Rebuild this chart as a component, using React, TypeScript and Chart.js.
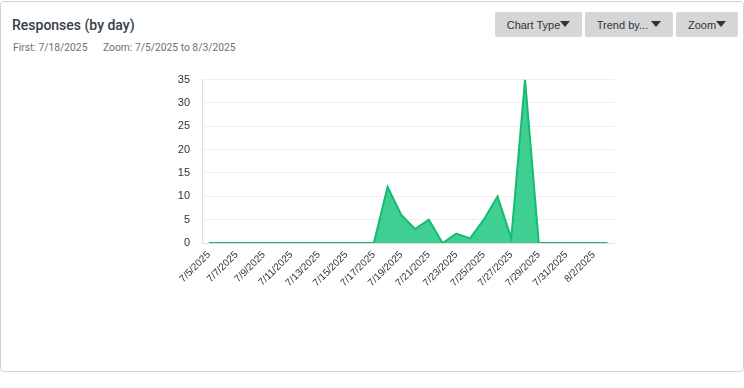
import React, { useEffect, useRef } from "react";
import { Chart, registerables } from "chart.js";

Chart.register(...registerables);

const dates = [
  "7/5/2025", "7/6/2025", "7/7/2025", "7/8/2025", "7/9/2025", "7/10/2025",
  "7/11/2025", "7/12/2025", "7/13/2025", "7/14/2025", "7/15/2025", "7/16/2025",
  "7/17/2025", "7/18/2025", "7/19/2025", "7/20/2025", "7/21/2025", "7/22/2025",
  "7/23/2025", "7/24/2025", "7/25/2025", "7/26/2025", "7/27/2025", "7/28/2025",
  "7/29/2025", "7/30/2025", "7/31/2025", "8/1/2025", "8/2/2025", "8/3/2025",
];

const responses = [
  0, 0, 0, 0, 0, 0,
  0, 0, 0, 0, 0, 0,
  0, 12, 6, 3, 5, 0,
  2, 1, 5, 10, 1, 35,
  0, 0, 0, 0, 0, 0,
];

const yTicks = [0, 5, 10, 15, 20, 25, 30, 35];

const Caret = () => (
  <span
    style={{
      display: "inline-block",
      width: 0,
      height: 0,
      borderLeft: "5px solid transparent",
      borderRight: "5px solid transparent",
      borderTop: "6px solid #333",
      verticalAlign: "middle",
      marginTop: -2,
    }}
  />
);

const btnStyle: React.CSSProperties = {
  position: "absolute",
  top: 12,
  height: 25,
  background: "#d5d6d7",
  borderRadius: 2,
  color: "#333",
  font: "11px 'Liberation Sans', Arial, sans-serif",
  display: "flex",
  alignItems: "center",
  justifyContent: "center",
  boxSizing: "border-box",
};

const subStyle: React.CSSProperties = {
  position: "absolute",
  top: 41,
  font: "10.3px Roboto, 'Noto Sans', sans-serif",
  color: "#6b7178",
  whiteSpace: "nowrap",
};

export default function App() {
  const ref = useRef<HTMLCanvasElement>(null);

  useEffect(() => {
    document.body.style.margin = "0";
    const ctx = ref.current!;
    const chart = new Chart(ctx, {
      type: "line",
      data: {
        labels: dates,
        datasets: [
          {
            label: "Responses",
            data: responses,
            borderColor: "#12bd70",
            backgroundColor: "rgba(0,191,111,0.75)",
            borderWidth: 2,
            fill: "origin",
            tension: 0,
            pointRadius: 0,
            pointHoverRadius: 0,
          },
        ],
      },
      options: {
        animation: false,
        responsive: false,
        maintainAspectRatio: false,
        layout: { padding: { top: 9, right: 0, bottom: 0, left: 0 } },
        plugins: { legend: { display: false }, tooltip: { enabled: false } },
        scales: {
          x: {
            offset: true,
            grid: { display: false, drawTicks: false },
            border: { display: true, color: "#dddddd", width: 1 },
            ticks: {
              autoSkip: false,
              minRotation: 45,
              maxRotation: 45,
              padding: 6,
              color: "#333",
              font: { family: "'Liberation Sans', Arial, sans-serif", size: 10 },
              callback: (_v: any, i: number) => (i % 2 === 0 ? dates[i] : ""),
            },
            afterFit: (s: any) => {
              s.height = 60;
            },
          },
          y: {
            min: 0,
            max: 35,
            afterBuildTicks: (s: any) => {
              s.ticks = yTicks.map((v) => ({ value: v }));
            },
            grid: { color: "#efefef", drawTicks: false },
            border: { display: true, color: "#dddddd", width: 1 },
            ticks: {
              padding: 12,
              color: "#333",
              font: { family: "'Liberation Sans', Arial, sans-serif", size: 11 },
            },
            afterFit: (s: any) => {
              s.width = 52;
            },
          },
        },
      },
    });
    return () => chart.destroy();
  }, []);

  return (
    <div style={{ position: "relative", width: 744, height: 388, background: "#fff" }}>
      <div
        style={{
          position: "absolute",
          left: 0,
          top: 1,
          width: 744,
          height: 371,
          border: "1px solid #d3d3d3",
          borderRadius: 4,
          boxSizing: "border-box",
        }}
      />
      <div
        style={{
          position: "absolute",
          left: 12,
          top: 17,
          font: "500 14px Roboto, 'Noto Sans', sans-serif",
          color: "#333e48",
          whiteSpace: "nowrap",
        }}
      >
        Responses (by day)
      </div>
      <div style={{ ...subStyle, left: 13 }}>First: 7/18/2025</div>
      <div style={{ ...subStyle, left: 103 }}>Zoom: 7/5/2025 to 8/3/2025</div>
      <div style={{ ...btnStyle, left: 495, width: 87 }}>
        Chart Type
        <Caret />
      </div>
      <div style={{ ...btnStyle, left: 585, width: 88 }}>
        Trend by...&nbsp;
        <Caret />
      </div>
      <div style={{ ...btnStyle, left: 676, width: 62 }}>
        Zoom
        <Caret />
      </div>
      <canvas
        ref={ref}
        width={472}
        height={242}
        style={{ position: "absolute", left: 150, top: 61, width: 472, height: 242 }}
      />
    </div>
  );
}
